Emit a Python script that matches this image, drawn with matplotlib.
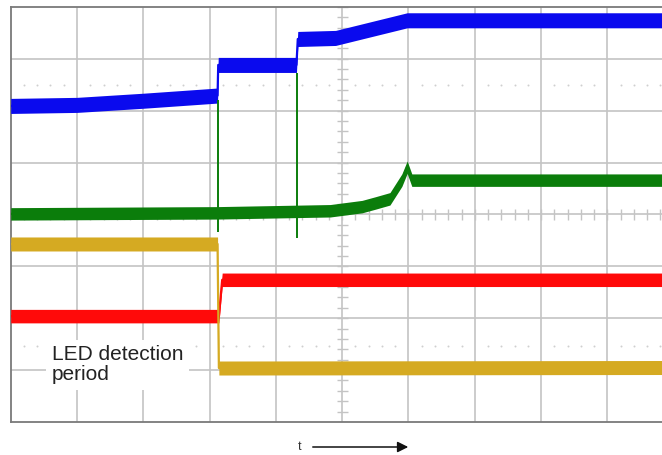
import numpy as np
import matplotlib
matplotlib.use("Agg")
import matplotlib.pyplot as plt

plt.rcParams['font.family'] = ['Liberation Sans', 'DejaVu Sans']

# ---- trace data (x and y in scope divisions) ----
blue_x = [0.0, 1.0, 2.0, 3.12, 3.13, 4.31, 4.33, 4.9, 5.98, 9.9]
blue_y = [6.09, 6.11, 6.19, 6.29, 6.88, 6.88, 7.38, 7.40, 7.74, 7.74]

green_x = [0.0, 3.12, 4.82, 5.3, 5.5, 5.72, 5.9, 5.98, 6.05, 9.9]
green_y = [4.01, 4.03, 4.07, 4.15, 4.22, 4.30, 4.66, 4.91, 4.66, 4.66]

# glitches on the green trace
spike_x = [3.13, 4.32]
spike_top = [6.20, 6.72]
spike_bottom = [3.66, 3.55]

red_x = [0.0, 3.14, 3.19, 9.9]
red_y = [2.04, 2.04, 2.74, 2.74]

yellow_x = [0.0, 3.12, 3.14, 9.9]
yellow_y = [3.43, 3.43, 1.04, 1.05]

traces = [
    (blue_x, blue_y, '#0a0aee', 0.145),
    (green_x, green_y, '#0b7d0b', 0.12),
    (red_x, red_y, '#ff0a0a', 0.13),
    (yellow_x, yellow_y, '#d5aa22', 0.135),
]

fig = plt.figure(figsize=(6.62, 4.55), dpi=100)
W, H = 662.0, 455.0
x0, x_div = 10.7, 66.3
y_bot, y_div = 422.0, 51.9
ax = fig.add_axes([x0 / W, 1 - y_bot / H, (W - x0) / W, 8 * y_div / H])
ax.set_xlim(0, (W - x0) / x_div)
ax.set_ylim(0, 8)
ax.set_xticks([])
ax.set_yticks([])

##############################
# graticule
##############################
grid_c = '#c4c4c4'
for i in range(1, 10):
    ax.axvline(i, color=grid_c, lw=1.2, zorder=1)
for j in range(1, 8):
    ax.axhline(j, color=grid_c, lw=1.2, zorder=1)

# minor ticks on the centre cross
minor = np.arange(0, 10.01, 0.2)
ax.hlines(minor, 4.92, 5.08, color=grid_c, lw=1.0, zorder=1)
ax.vlines(minor, 3.9, 4.1, color=grid_c, lw=1.0, zorder=1)

# dotted marker lines
dots = [v for v in minor if abs(v - round(v)) > 0.05]
for yy in (6.5, 1.47):
    ax.scatter(dots, [yy] * len(dots), s=2, color='#cfcfcf', zorder=1, linewidths=0)

for s in ax.spines.values():
    s.set_color('#7a7a7a')
    s.set_linewidth(1.3)
ax.spines['right'].set_visible(False)

##############################
# traces
##############################
for xs, ys, col, half in traces:
    xs = np.array(xs)
    ys = np.array(ys)
    ax.fill_between(xs, ys - half, ys + half, color=col, lw=0, zorder=3)
    ax.plot(xs, ys, color=col, lw=1.6, zorder=3)

ax.vlines(spike_x, spike_bottom, spike_top, color='#0b7d0b', lw=1.4, zorder=3)

ax.text(0.62, 0.81, 'LED detection\nperiod', fontsize=15, color='#222222',
        ha='left', va='baseline', linespacing=1.05, zorder=5,
        bbox=dict(facecolor='white', edgecolor='none', pad=4))

##############################
# time arrow
##############################
fig.text(300 / W, 1 - 447 / H, 't', fontsize=9, ha='center', va='center', color='#333333')
fig.add_artist(matplotlib.patches.FancyArrowPatch(
    (310 / W, 1 - 447 / H), (411 / W, 1 - 447 / H), transform=fig.transFigure,
    arrowstyle='-|>', mutation_scale=16, lw=1.1, color='#111111'))

fig.savefig('out.png', dpi=100)
